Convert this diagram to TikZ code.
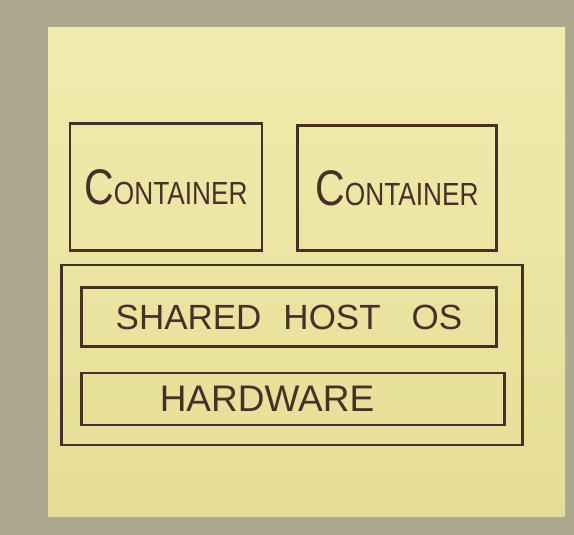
\documentclass[tikz,border=0pt]{standalone}
\usepackage{fontspec}
\usepackage{graphicx}
\setmainfont{Liberation Sans}
\usetikzlibrary{positioning}
\definecolor{deskgray}{RGB}{172,167,143}
\definecolor{notetop}{RGB}{241,236,174}
\definecolor{notebottom}{RGB}{229,221,150}
\definecolor{penink}{RGB}{72,48,38}
\newcommand{\handtext}[1]{\scalebox{0.82}[1]{#1}}

\begin{document}
\begin{tikzpicture}[x=1pt, y=-1pt, penbox/.style={draw=penink, line width=2.4pt, inner sep=0pt}, font=\fontsize{32}{34}\selectfont, text=penink]
        % Desk and sticky note
        \fill [deskgray] (0,0) rectangle (574,535);
        \shade [top color=notetop, bottom color=notebottom] (48,28) rectangle (565,516);
        \useasboundingbox (0,0) rectangle (574,535);

        % Containers
        \node [penbox, minimum width=192pt, minimum height=127pt] (left) at (166,187) {\handtext{{\fontsize{50}{52}\selectfont C}ONTAINER}};
        \node [penbox, minimum width=199pt, minimum height=125pt] (right) at (397,188) {\handtext{{\fontsize{50}{52}\selectfont C}ONTAINER}};

        % Host with OS and hardware
        \node [penbox, minimum width=461pt, minimum height=180pt] (host) at (292,355) {};
        \node [penbox, minimum width=415pt, minimum height=59pt] (os) at (289,317) {\fontsize{35}{37}\selectfont SHARED\hspace{22pt}HOST\hspace{31pt}OS};
        \node [penbox, minimum width=423pt, minimum height=52pt, label={[xshift=-26pt, font=\fontsize{37}{39}\selectfont, text=penink]center:HARDWARE}] (hw) at (293,399) {};
    \end{tikzpicture}
\end{document}
